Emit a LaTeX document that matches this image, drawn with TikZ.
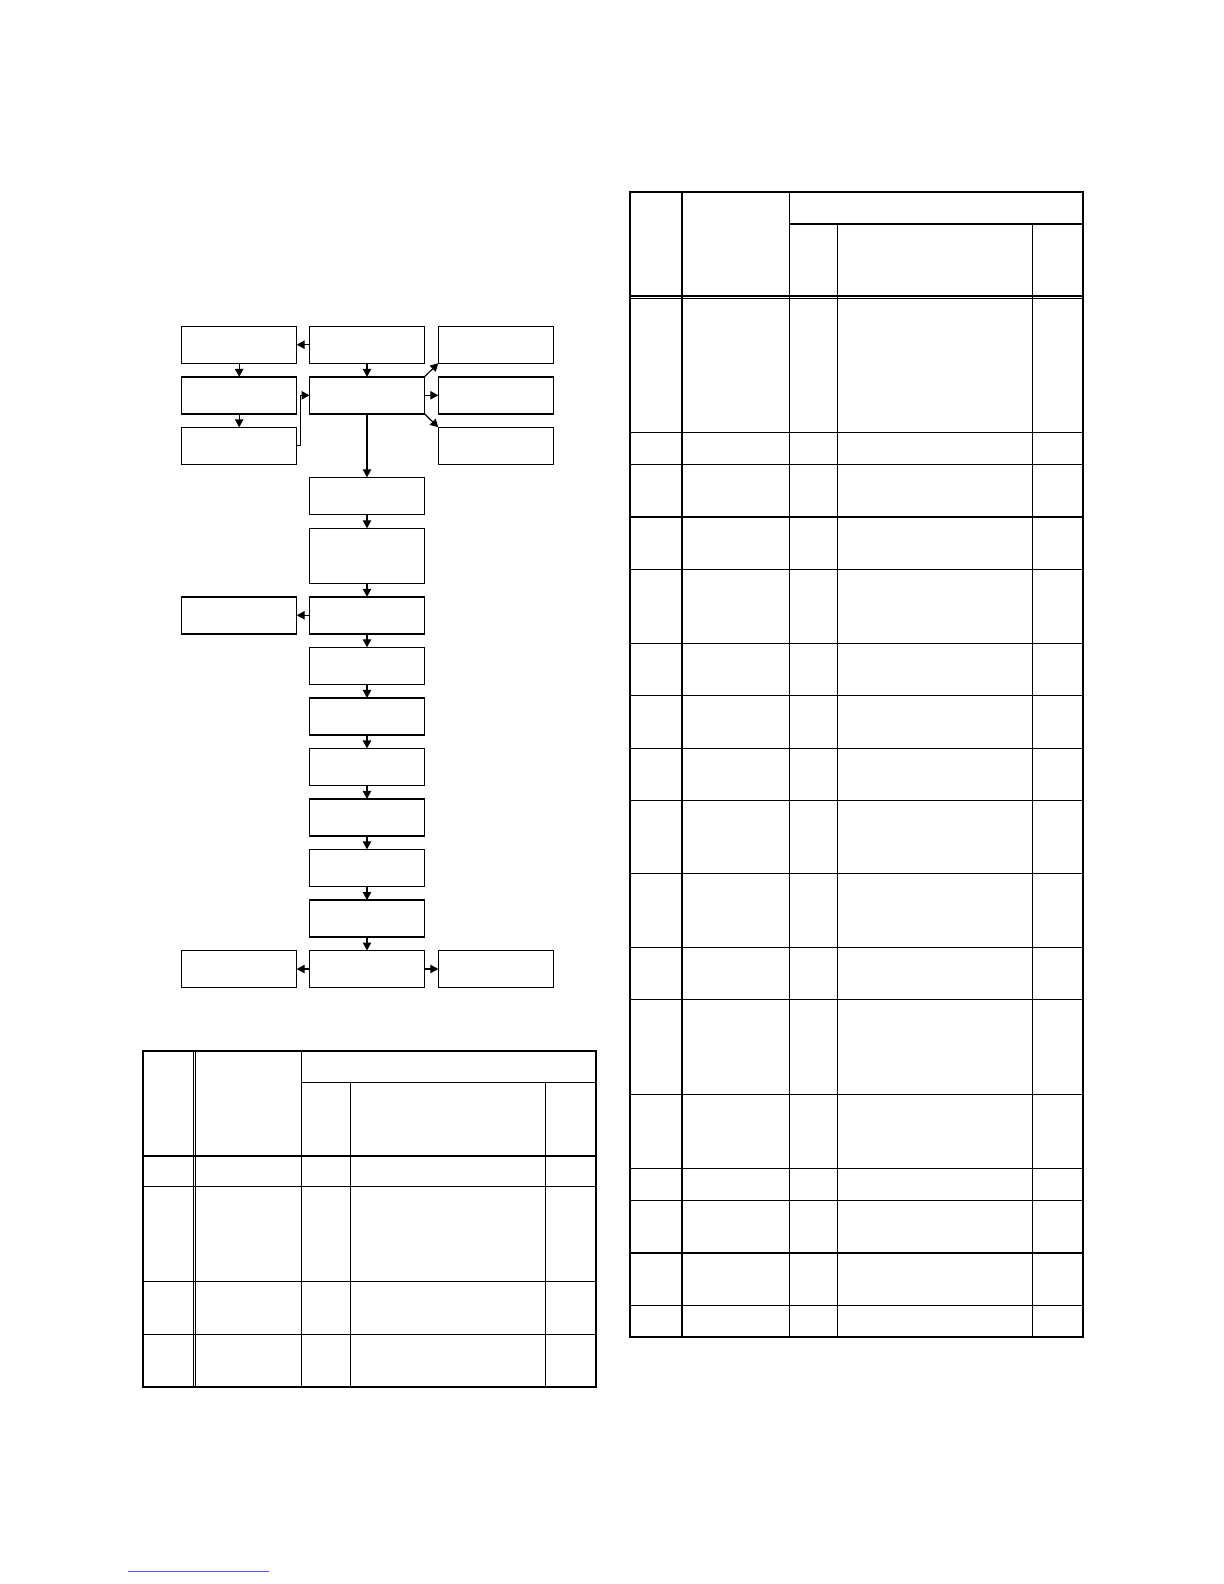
\documentclass[tikz,border=0pt]{standalone}
\usetikzlibrary{arrows.meta}
\begin{document}
\begin{tikzpicture}[x=0.5pt,y=-0.5pt,
  box/.style={draw, line width=0.7pt, minimum width=57.5pt, minimum height=18.5pt, inner sep=0pt, outer sep=0pt},
  tallbox/.style={box, minimum height=27.5pt},
  conn/.style={line width=0.6pt, -{Triangle[length=4pt,width=4.2pt]}},
  tline/.style={line width=0.6pt},
  tthick/.style={line width=1.1pt},
  linkline/.style={line width=0.5pt, blue!65}]
\fill[white] (0,0) rectangle (1224,1584);
\useasboundingbox (0,0) rectangle (1224,1584);

% flowchart nodes
\node[box] (a1) at (239.2,344.7) {};
\node[box] (b1) at (367,344.7) {};
\node[box] (c1) at (495.8,344.7) {};
\node[box] (a2) at (239.2,395.3) {};
\node[box] (b2) at (367,395.3) {};
\node[box] (c2) at (495.8,395.3) {};
\node[box] (a3) at (239.2,445.8) {};
\node[box] (c3) at (495.8,445.8) {};
\node[box] (b4) at (367,495.8) {};
\node[tallbox] (b5) at (367,555.8) {};
\node[box] (a6) at (239.2,615.3) {};
\node[box] (b6) at (367,615.3) {};
\node[box] (b7) at (367,665.8) {};
\node[box] (b8) at (367,716.4) {};
\node[box] (b9) at (367,766.9) {};
\node[box] (b10) at (367,817.4) {};
\node[box] (b11) at (367,867.9) {};
\node[box] (b12) at (367,918.5) {};
\node[box] (a13) at (239.2,969) {};
\node[box] (b13) at (367,969) {};
\node[box] (c13) at (495.8,969) {};

% connectors
\draw[conn] (b1.west) -- (a1.east);
\draw[conn] (a1.south) -- (a2.north);
\draw[conn] (a2.south) -- (a3.north);
\draw[conn] (b1.south) -- (b2.north);
\draw[conn] (a3.east) -- ++(3.5,0) |- (b2.west);
\draw[conn] (b2.north east) -- (c1.south west);
\draw[conn] (b2.east) -- (c2.west);
\draw[conn] (b2.south east) -- (c3.north west);
\draw[conn] (b2.south) -- (b4.north);
\draw[conn] (b4.south) -- (b5.north);
\draw[conn] (b5.south) -- (b6.north);
\draw[conn] (b6.west) -- (a6.east);
\draw[conn] (b6.south) -- (b7.north);
\draw[conn] (b7.south) -- (b8.north);
\draw[conn] (b8.south) -- (b9.north);
\draw[conn] (b9.south) -- (b10.north);
\draw[conn] (b10.south) -- (b11.north);
\draw[conn] (b11.south) -- (b12.north);
\draw[conn] (b12.south) -- (b13.north);
\draw[conn] (b13.west) -- (a13.east);
\draw[conn] (b13.east) -- (c13.west);

% left table
\draw[tthick] (142.7,1050.7) rectangle (596,1386.7);
\draw[tline] (193.3,1050.7) -- (193.3,1386.7);
\draw[tline] (195.8,1050.7) -- (195.8,1386.7);
\draw[tline] (301.3,1050.7) -- (301.3,1386.7);
\draw[tline] (301.3,1082.3) -- (596,1082.3);
\draw[tline] (350.3,1082.3) -- (350.3,1386.7);
\draw[tline] (545.7,1082.3) -- (545.7,1386.7);
\draw[tthick] (142.7,1156) -- (596,1156);
\foreach \yy in {1186.7,1281.5,1334.3}
  \draw[tline] (142.7,\yy) -- (596,\yy);

% right table
\draw[tthick] (630.3,192) rectangle (1083.3,1337);
\draw[tthick] (682,192) -- (682,1337);
\draw[tline] (789.3,192) -- (789.3,1337);
\draw[tline] (789.3,224) -- (1083.3,224);
\draw[tline] (837.3,224) -- (837.3,1337);
\draw[tline] (1032.3,224) -- (1032.3,1337);
\draw[tline] (630.3,296) -- (1083.3,296);
\draw[tline] (630.3,298.6) -- (1083.3,298.6);
\foreach \yy in {432.5,464.4,517,569.5,643.2,695.7,748.2,800.7,873.4,947.1,999.6,1094.5,1168.3,1200.5,1253,1305.4}
  \draw[tline] (630.3,\yy) -- (1083.3,\yy);

% link underline
\draw[linkline] (128,1571) -- (269,1571);
\end{tikzpicture}
\end{document}
